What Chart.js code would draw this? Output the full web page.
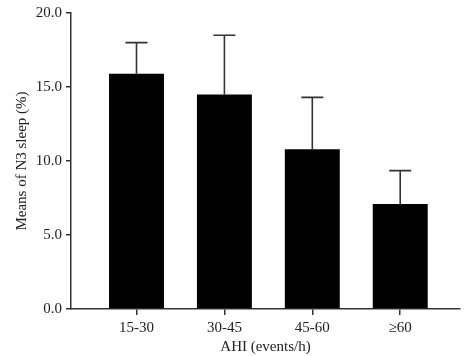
<!DOCTYPE html>
<html>
<head>
<meta charset="utf-8">
<script src="https://cdn.jsdelivr.net/npm/chart.js@4"></script>
<style>
html,body{margin:0;padding:0;background:#fff;}
#wrap{width:473px;height:356px;}
</style>
</head>
<body>
<div id="wrap"><canvas id="c" width="473" height="356"></canvas></div>
<script>
const categories = ['15-30', '30-45', '45-60', '\u226560'];
const means = [15.9, 14.5, 10.8, 7.1];
const sd = [2.1, 4.0, 3.5, 2.25];
const yTicks = [0, 5, 10, 15, 20];

const FONT = "'Liberation Serif', 'Times New Roman', serif";

const errorBars = {
  id: 'errorBars',
  afterDatasetsDraw(chart) {
    const ctx = chart.ctx;
    const meta = chart.getDatasetMeta(0);
    const ys = chart.scales.y;
    ctx.save();
    ctx.strokeStyle = '#333';
    ctx.lineWidth = 1.6;
    meta.data.forEach((bar, i) => {
      const x = bar.x;
      const yTop = ys.getPixelForValue(means[i] + sd[i]);
      const yBar = ys.getPixelForValue(means[i]);
      ctx.beginPath();
      ctx.moveTo(x, yBar);
      ctx.lineTo(x, yTop);
      ctx.moveTo(x - 11, yTop);
      ctx.lineTo(x + 11, yTop);
      ctx.stroke();
    });
    ctx.restore();
  }
};

new Chart(document.getElementById('c'), {
  type: 'bar',
  data: {
    datasets: [{
      data: categories.map((c, i) => ({x: i, y: means[i]})),
      backgroundColor: '#000',
      borderWidth: 0,
      categoryPercentage: 1,
      barPercentage: 0.625
    }]
  },
  options: {
    responsive: false,
    animation: false,
    layout: {padding: {left: 0, right: 13, top: 12, bottom: 0}},
    plugins: {legend: {display: false}, tooltip: {enabled: false}},
    scales: {
      x: {
        type: 'linear',
        offset: false,
        min: -0.745,
        max: 3.68,
        afterBuildTicks: (s) => { s.ticks = categories.map((c, i) => ({value: i})); },
        afterFit: (s) => { s.height = 47; },
        ticks: {
          callback: (v) => categories[v],
          font: {family: FONT, size: 15},
          color: '#222',
          padding: 4,
          maxRotation: 0,
          autoSkip: false
        },
        grid: {offset: false, drawOnChartArea: false, drawTicks: true, tickLength: 6, color: '#333', lineWidth: 1.5},
        border: {display: true, color: '#333', width: 1.5},
        title: {display: true, text: 'AHI (events/h)', font: {family: FONT, size: 15}, color: '#222', padding: {top: 0, bottom: 0}}
      },
      y: {
        min: 0,
        max: 20,
        afterBuildTicks: (s) => { s.ticks = yTicks.map(v => ({value: v})); },
        afterFit: (s) => { s.width = 71; },
        ticks: {
          callback: (v) => v.toFixed(1),
          font: {family: FONT, size: 15},
          color: '#222',
          padding: 4
        },
        grid: {drawOnChartArea: false, drawTicks: true, tickLength: 5, color: '#333', lineWidth: 1.5},
        border: {display: true, color: '#333', width: 1.5},
        title: {display: true, text: 'Means of N3 sleep (%)', font: {family: FONT, size: 15}, color: '#222', padding: {top: 13, bottom: 0}}
      }
    }
  },
  plugins: [errorBars]
});
</script>
</body>
</html>
